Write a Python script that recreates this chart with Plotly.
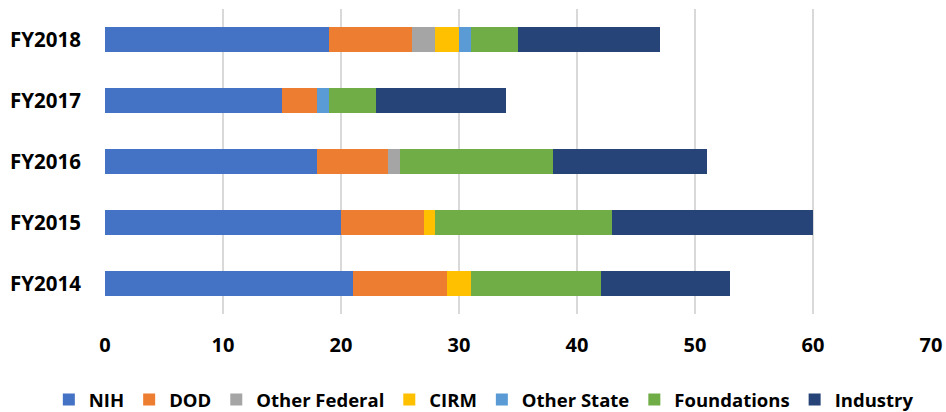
import plotly.graph_objects as go

years = ["FY2014", "FY2015", "FY2016", "FY2017", "FY2018"]
nih = [21, 20, 18, 15, 19]
dod = [8, 7, 6, 3, 7]
other_federal = [0, 0, 1, 0, 2]
cirm = [2, 1, 0, 0, 2]
other_state = [0, 0, 0, 1, 1]
foundations = [11, 15, 13, 4, 4]
industry = [11, 17, 13, 11, 12]

series = [
    ("NIH", nih, "#4472C4"),
    ("DOD", dod, "#ED7D31"),
    ("Other Federal", other_federal, "#A5A5A5"),
    ("CIRM", cirm, "#FFC000"),
    ("Other State", other_state, "#5B9BD5"),
    ("Foundations", foundations, "#70AD47"),
    ("Industry", industry, "#264478"),
]

fig = go.Figure()
for name, vals, color in series:
    fig.add_trace(go.Bar(
        y=years, x=vals, name=name, orientation="h",
        marker=dict(color=color, line=dict(width=0)),
    ))

font_family = "'Open Sans', Lato, sans-serif"
fig.update_layout(
    barmode="stack",
    bargap=0.59,
    width=946, height=412,
    margin=dict(l=105, r=15, t=9, b=98, autoexpand=False),
    plot_bgcolor="white",
    paper_bgcolor="white",
    font=dict(family=font_family, color="#000000"),
    legend=dict(
        orientation="h",
        x=-0.068, xanchor="left", y=-0.282, yanchor="middle",
        font=dict(size=18.5, family=font_family, weight="bold"),
        itemwidth=30, traceorder="normal", borderwidth=0,
    ),
    xaxis=dict(
        range=[0, 70], dtick=10, showgrid=True, gridcolor="#D9D9D9", gridwidth=2,
        zeroline=False, showline=False, automargin=False,
        tickfont=dict(size=20, family=font_family, weight="bold"),
        ticklabelstandoff=17,
    ),
    yaxis=dict(
        categoryorder="array", categoryarray=years,
        showgrid=False, zeroline=False, showline=False, automargin=False,
        tickfont=dict(size=20.5, family=font_family, weight="bold"),
        ticklabelstandoff=23,
    ),
)

fig.write_html("out.html", config={"displayModeBar": False},
               post_script="document.body.style.margin='0px';")
